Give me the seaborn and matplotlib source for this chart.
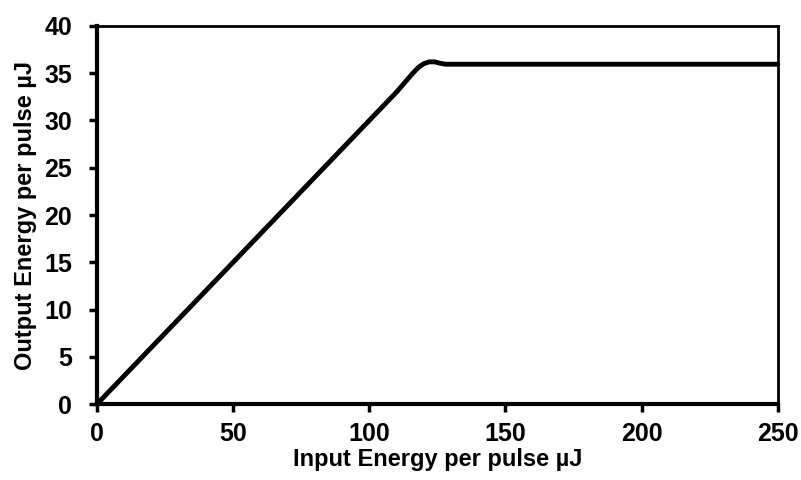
import matplotlib
matplotlib.use("Agg")
import matplotlib.pyplot as plt
import seaborn as sns
import pandas as pd

input_energy = [0, 10, 20, 40, 60, 80, 100, 106, 110, 113, 116, 118, 120, 122, 124, 126, 128, 130, 140, 160, 200, 250]
output_energy = [0, 3, 6, 12, 18, 24, 30, 31.8, 33, 34.0, 35.0, 35.6, 36.0, 36.2, 36.2, 36.05, 35.95, 35.95, 35.95, 35.95, 35.95, 35.95]
x_ticks = [0, 50, 100, 150, 200, 250]
y_ticks = [0, 5, 10, 15, 20, 25, 30, 35, 40]

sns.set_theme(style="ticks")
plt.rcParams['font.family'] = ['Liberation Sans', 'DejaVu Sans']
plt.rcParams['font.weight'] = 'bold'
plt.rcParams['text.color'] = 'black'
plt.rcParams['axes.labelcolor'] = 'black'

df = pd.DataFrame({"x": input_energy, "y": output_energy})

fig = plt.figure(figsize=(8.01, 4.80), dpi=100)
ax = fig.add_axes([0.121, 0.158, 0.850, 0.788])
sns.lineplot(data=df, x="x", y="y", ax=ax, color="black", linewidth=3.5, clip_on=False)

ax.set_xlim(0, 250)
ax.set_ylim(0, 40)
ax.set_xticks(x_ticks)
ax.set_yticks(y_ticks)
ax.tick_params(axis='both', direction='out', length=6, width=2.5, labelsize=18, colors='black')
ax.tick_params(axis='x', pad=7)
ax.tick_params(axis='y', pad=12)
for lab in ax.get_xticklabels() + ax.get_yticklabels():
    lab.set_fontweight('bold')
ax.set_xlabel("Input Energy per pulse µJ", fontsize=17, fontweight='bold', labelpad=1, color='black')
ax.set_ylabel("Output Energy per pulse µJ", fontsize=17, fontweight='bold', labelpad=5, color='black')
for side in ['left', 'bottom']:
    ax.spines[side].set_linewidth(3)
for side in ['top', 'right']:
    ax.spines[side].set_linewidth(2)
for s in ax.spines.values():
    s.set_color('black')

fig.savefig("out.png", dpi=100)
